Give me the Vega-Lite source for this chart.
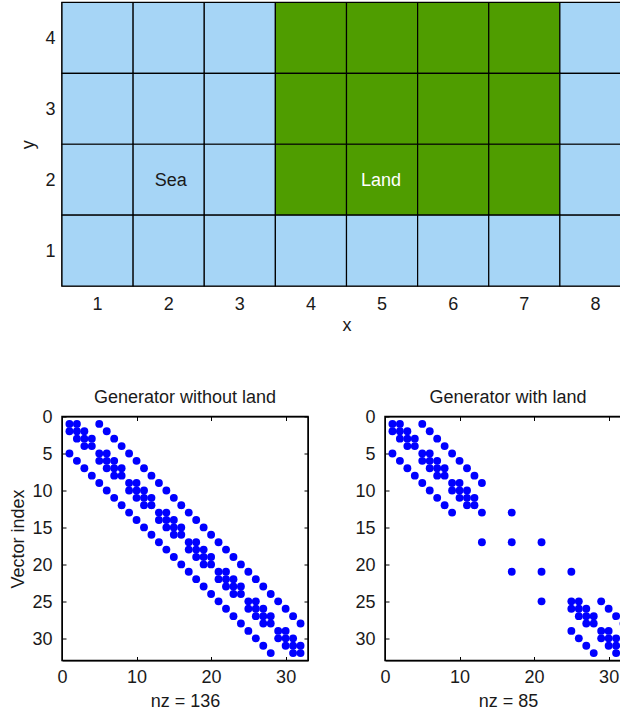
{"$schema":"https://vega.github.io/schema/vega-lite/v6.json","padding":{"left":8,"top":0.5,"right":0,"bottom":0},"background":"white","datasets":{"cells":[{"x":1,"y":4,"k":"Sea"},{"x":2,"y":4,"k":"Sea"},{"x":3,"y":4,"k":"Sea"},{"x":4,"y":4,"k":"Land"},{"x":5,"y":4,"k":"Land"},{"x":6,"y":4,"k":"Land"},{"x":7,"y":4,"k":"Land"},{"x":8,"y":4,"k":"Sea"},{"x":1,"y":3,"k":"Sea"},{"x":2,"y":3,"k":"Sea"},{"x":3,"y":3,"k":"Sea"},{"x":4,"y":3,"k":"Land"},{"x":5,"y":3,"k":"Land"},{"x":6,"y":3,"k":"Land"},{"x":7,"y":3,"k":"Land"},{"x":8,"y":3,"k":"Sea"},{"x":1,"y":2,"k":"Sea"},{"x":2,"y":2,"k":"Sea"},{"x":3,"y":2,"k":"Sea"},{"x":4,"y":2,"k":"Land"},{"x":5,"y":2,"k":"Land"},{"x":6,"y":2,"k":"Land"},{"x":7,"y":2,"k":"Land"},{"x":8,"y":2,"k":"Sea"},{"x":1,"y":1,"k":"Sea"},{"x":2,"y":1,"k":"Sea"},{"x":3,"y":1,"k":"Sea"},{"x":4,"y":1,"k":"Sea"},{"x":5,"y":1,"k":"Sea"},{"x":6,"y":1,"k":"Sea"},{"x":7,"y":1,"k":"Sea"},{"x":8,"y":1,"k":"Sea"}],
"nz":[{"x":1,"y":1,"w":1},{"x":2,"y":1,"w":1},{"x":1,"y":2,"w":1},{"x":2,"y":2,"w":1},{"x":3,"y":2,"w":1},{"x":2,"y":3,"w":1},{"x":3,"y":3,"w":1},{"x":4,"y":3,"w":1},{"x":3,"y":4,"w":1},{"x":4,"y":4,"w":1},
{"x":5,"y":5,"w":1},{"x":6,"y":5,"w":1},{"x":5,"y":6,"w":1},{"x":6,"y":6,"w":1},{"x":7,"y":6,"w":1},{"x":6,"y":7,"w":1},{"x":7,"y":7,"w":1},{"x":8,"y":7,"w":1},{"x":7,"y":8,"w":1},{"x":8,"y":8,"w":1},
{"x":9,"y":9,"w":1},{"x":10,"y":9,"w":1},{"x":9,"y":10,"w":1},{"x":10,"y":10,"w":1},{"x":11,"y":10,"w":1},{"x":10,"y":11,"w":1},{"x":11,"y":11,"w":1},{"x":12,"y":11,"w":1},{"x":11,"y":12,"w":1},{"x":12,"y":12,"w":1},
{"x":13,"y":13,"w":1},{"x":14,"y":13,"w":0},{"x":13,"y":14,"w":0},{"x":14,"y":14,"w":0},{"x":15,"y":14,"w":0},{"x":14,"y":15,"w":0},{"x":15,"y":15,"w":0},{"x":16,"y":15,"w":0},{"x":15,"y":16,"w":0},{"x":16,"y":16,"w":0},
{"x":17,"y":17,"w":1},{"x":18,"y":17,"w":0},{"x":17,"y":18,"w":0},{"x":18,"y":18,"w":0},{"x":19,"y":18,"w":0},{"x":18,"y":19,"w":0},{"x":19,"y":19,"w":0},{"x":20,"y":19,"w":0},{"x":19,"y":20,"w":0},{"x":20,"y":20,"w":0},
{"x":21,"y":21,"w":1},{"x":22,"y":21,"w":0},{"x":21,"y":22,"w":0},{"x":22,"y":22,"w":0},{"x":23,"y":22,"w":0},{"x":22,"y":23,"w":0},{"x":23,"y":23,"w":0},{"x":24,"y":23,"w":0},{"x":23,"y":24,"w":0},{"x":24,"y":24,"w":0},
{"x":25,"y":25,"w":1},{"x":26,"y":25,"w":1},{"x":25,"y":26,"w":1},{"x":26,"y":26,"w":1},{"x":27,"y":26,"w":1},{"x":26,"y":27,"w":1},{"x":27,"y":27,"w":1},{"x":28,"y":27,"w":1},{"x":27,"y":28,"w":1},{"x":28,"y":28,"w":1},
{"x":29,"y":29,"w":1},{"x":30,"y":29,"w":1},{"x":29,"y":30,"w":1},{"x":30,"y":30,"w":1},{"x":31,"y":30,"w":1},{"x":30,"y":31,"w":1},{"x":31,"y":31,"w":1},{"x":32,"y":31,"w":1},{"x":31,"y":32,"w":1},{"x":32,"y":32,"w":1},
{"x":5,"y":1,"w":1},{"x":1,"y":5,"w":1},{"x":6,"y":2,"w":1},{"x":2,"y":6,"w":1},{"x":7,"y":3,"w":1},{"x":3,"y":7,"w":1},{"x":8,"y":4,"w":1},{"x":4,"y":8,"w":1},{"x":9,"y":5,"w":1},{"x":5,"y":9,"w":1},{"x":10,"y":6,"w":1},{"x":6,"y":10,"w":1},{"x":11,"y":7,"w":1},{"x":7,"y":11,"w":1},{"x":12,"y":8,"w":1},{"x":8,"y":12,"w":1},{"x":13,"y":9,"w":1},{"x":9,"y":13,"w":1},
{"x":14,"y":10,"w":0},{"x":10,"y":14,"w":0},{"x":15,"y":11,"w":0},{"x":11,"y":15,"w":0},{"x":16,"y":12,"w":0},{"x":12,"y":16,"w":0},
{"x":17,"y":13,"w":1},{"x":13,"y":17,"w":1},
{"x":18,"y":14,"w":0},{"x":14,"y":18,"w":0},{"x":19,"y":15,"w":0},{"x":15,"y":19,"w":0},{"x":20,"y":16,"w":0},{"x":16,"y":20,"w":0},
{"x":21,"y":17,"w":1},{"x":17,"y":21,"w":1},
{"x":22,"y":18,"w":0},{"x":18,"y":22,"w":0},{"x":23,"y":19,"w":0},{"x":19,"y":23,"w":0},{"x":24,"y":20,"w":0},{"x":20,"y":24,"w":0},
{"x":25,"y":21,"w":1},{"x":21,"y":25,"w":1},
{"x":26,"y":22,"w":0},{"x":22,"y":26,"w":0},{"x":27,"y":23,"w":0},{"x":23,"y":27,"w":0},{"x":28,"y":24,"w":0},{"x":24,"y":28,"w":0},
{"x":29,"y":25,"w":1},{"x":25,"y":29,"w":1},{"x":30,"y":26,"w":1},{"x":26,"y":30,"w":1},{"x":31,"y":27,"w":1},{"x":27,"y":31,"w":1},{"x":32,"y":28,"w":1},{"x":28,"y":32,"w":1}]},
"config":{"font":"Liberation Sans","view":{"stroke":"black","strokeWidth":1.5},"axis":{"grid":false,"labelFlush":false,"labelFont":"Liberation Sans","titleFont":"Liberation Sans","labelFontSize":18,"titleFontSize":18,"titleFontWeight":"normal","labelColor":"#1a1a1a","titleColor":"#1a1a1a","domainColor":"black","tickColor":"black"},"title":{"font":"Liberation Sans","fontSize":18,"fontWeight":"normal","color":"#1a1a1a","offset":2}},
"spacing":52,
"vconcat":[
{"width":569,"height":283.5,"data":{"name":"cells"},"layer":[
{"mark":{"type":"rect","stroke":"black","strokeWidth":1.2},"encoding":{"x":{"field":"x","type":"ordinal","scale":{"paddingInner":0,"paddingOuter":0},"axis":{"labelAngle":0,"tickSize":0,"labelPadding":9,"title":"x","titlePadding":3,"domain":false}},"y":{"field":"y","type":"ordinal","sort":"descending","scale":{"paddingInner":0,"paddingOuter":0},"axis":{"tickSize":0,"labelPadding":7,"labelOffset":1.5,"title":"y","titlePadding":7,"domain":false}},"color":{"field":"k","type":"nominal","scale":{"domain":["Sea","Land"],"range":["#A6D5F6","#4F9D00"]},"legend":null}}},
{"data":{"values":[{"x":2,"y":2,"label":"Sea"}]},"mark":{"type":"text","fontSize":18,"font":"Liberation Sans","dx":2,"dy":1.5,"color":"#1a1a1a"},"encoding":{"x":{"field":"x","type":"ordinal"},"y":{"field":"y","type":"ordinal","sort":"descending"},"text":{"field":"label"}}},
{"data":{"values":[{"x":5,"y":2,"label":"Land"}]},"mark":{"type":"text","fontSize":18,"font":"Liberation Sans","dx":-1,"dy":1.5,"color":"#ffffff"},"encoding":{"x":{"field":"x","type":"ordinal"},"y":{"field":"y","type":"ordinal","sort":"descending"},"text":{"field":"label"}}}
]},
{"spacing":44,"hconcat":[
{"width":246,"height":244,"title":"Generator without land","data":{"name":"nz"},"layer":[
{"mark":{"type":"point","filled":true,"size":62,"opacity":1,"color":"#0000ff"},"encoding":{"x":{"field":"x","type":"quantitative","scale":{"domain":[0,33],"nice":false},"axis":{"values":[0,10,20,30],"tickSize":-4,"labelPadding":12,"title":"nz = 136","titlePadding":6}},"y":{"field":"y","type":"quantitative","scale":{"domain":[33,0],"nice":false},"axis":{"values":[0,5,10,15,20,25,30],"tickSize":-4,"labelPadding":14,"labelOffset":1,"title":"Vector index","titlePadding":4.5}}}},
{"mark":{"type":"point","filled":true,"size":62,"opacity":0},"encoding":{"x":{"field":"x","type":"quantitative","scale":{"domain":[0,33],"nice":false},"axis":{"orient":"top","values":[0,10,20,30],"tickSize":-4,"labels":false,"title":null}},"y":{"field":"y","type":"quantitative","scale":{"domain":[33,0],"nice":false},"axis":{"orient":"right","values":[0,5,10,15,20,25,30],"tickSize":-4,"labels":false,"title":null}}}}
],"resolve":{"axis":{"x":"independent","y":"independent"}}},
{"width":246,"height":244,"title":"Generator with land","data":{"name":"nz"},"transform":[{"filter":"datum.w==1"}],"layer":[
{"mark":{"type":"point","filled":true,"size":62,"opacity":1,"color":"#0000ff"},"encoding":{"x":{"field":"x","type":"quantitative","scale":{"domain":[0,33],"nice":false},"axis":{"values":[0,10,20,30],"tickSize":-4,"labelPadding":12,"title":"nz = 85","titlePadding":6}},"y":{"field":"y","type":"quantitative","scale":{"domain":[33,0],"nice":false},"axis":{"values":[0,5,10,15,20,25,30],"tickSize":-4,"labelPadding":14,"labelOffset":1,"title":null}}}},
{"mark":{"type":"point","filled":true,"size":62,"opacity":0},"encoding":{"x":{"field":"x","type":"quantitative","scale":{"domain":[0,33],"nice":false},"axis":{"orient":"top","values":[0,10,20,30],"tickSize":-4,"labels":false,"title":null}},"y":{"field":"y","type":"quantitative","scale":{"domain":[33,0],"nice":false},"axis":{"orient":"right","values":[0,5,10,15,20,25,30],"tickSize":-4,"labels":false,"title":null}}}}
],"resolve":{"axis":{"x":"independent","y":"independent"}}}
]}
]}
